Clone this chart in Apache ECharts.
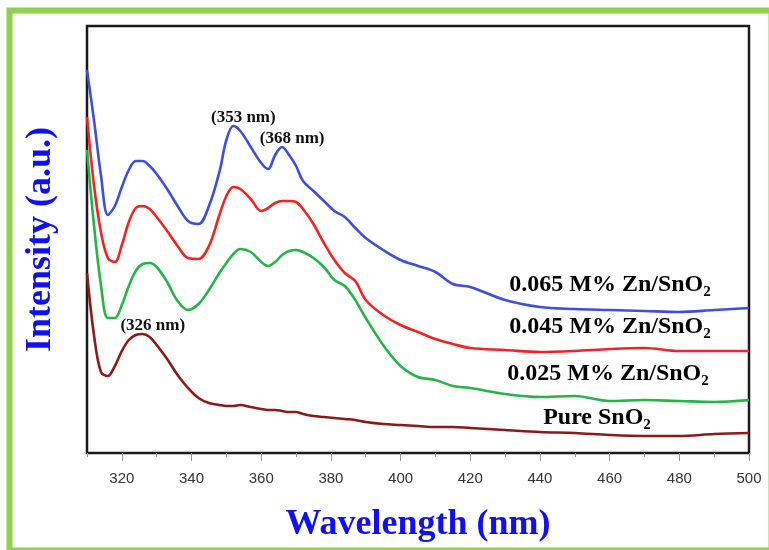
<!DOCTYPE html>
<html>
<head>
<meta charset="utf-8">
<script src="https://cdn.jsdelivr.net/npm/echarts@6/dist/echarts.min.js"></script>
<style>
  html, body { margin: 0; padding: 0; background: #ffffff; }
  #chart { width: 769px; height: 550px; }
</style>
</head>
<body>
<div id="chart"></div>
<script>
// Photoluminescence spectra of pure and Zn-doped SnO2 (intensity in a.u.)
const wavelength = [310,312,314,316,318,320,322,324,326,328,330,333,336,339,342,345,348,350,352,354,357,360,362,364,366,368,370,372,375,378,381,384,387,390,395,400,405,410,415,420,430,440,450,460,470,480,490,500];

const zn065 = [383,333,278,238,247,266,283,292,292,287,279,264,247,232,229,247,281,313,327,322,306,290,284,298,306,298,287,272,262,252,242,236,225,215,203,193,187,181,169,166,153,146,144,143,142,141,143,145];
const zn045 = [336,268,221,195,191,208,231,245,247,244,236,222,207,195,194,207,238,257,266,264,254,242,245,250,252,252,251,244,229,210,193,180,172,153,138,128,121,114,109,105,103,101,102,104,105,102,102,102];
const zn025 = [303,228,168,135,135,148,167,182,189,190,186,171,152,143,149,163,180,190,199,204,201,191,187,191,198,202,203,201,195,186,173,167,153,135,108,87,76,73,67,65,59,56,57,52,53,52,51,53];
const pureSnO2 = [180,118,81,77,87,102,113,118,119,116,108,94,78,65,55,50,48,47,47,48,46,44,43,43,42,41,41,39,37,36,35,34,33,31,29,28,27,26,26,25,23,21,20,18,17,17,19,20];

const seriesNames = ['0.065 M% Zn/SnO', '0.045 M% Zn/SnO', '0.025 M% Zn/SnO', 'Pure SnO'];
const seriesColors = ['#3d4fdc', '#f02424', '#25b34a', '#8b1a1a'];
const seriesValues = [zn065, zn045, zn025, pureSnO2];

const majorTicks = [320,340,360,380,400,420,440,460,480,500];
const minorTicks = [310,330,350,370,390,410,430,450,470,490];

// peak annotations: [text, wavelength, series index]
const peakNotes = [['(353 nm)', 352, 0], ['(368 nm)', 366, 0], ['(326 nm)', 326, 3]];

const serif = '"Liberation Serif", "Times New Roman", serif';
const labelColor = '#8b1a1a';

const chart = echarts.init(document.getElementById('chart'), null, { renderer: 'canvas' });

function pairs(vals) {
  return wavelength.map((w, i) => [w, vals[i]]);
}

const series = seriesValues.map((vals, k) => ({
  name: seriesNames[k],
  type: 'line',
  xAxisIndex: 0,
  data: pairs(vals),
  smooth: 0.35,
  showSymbol: false,
  lineStyle: { color: seriesColors[k], width: 2.6 },
  z: 3,
  markPoint: {
    symbol: 'circle',
    symbolSize: 1,
    itemStyle: { color: 'rgba(0,0,0,0)' },
    silent: true,
    data: peakNotes.filter(p => p[2] === k).map(p => ({
      coord: [p[1], vals[wavelength.indexOf(p[1])]],
      label: {
        show: true,
        formatter: p[0],
        position: 'top',
        distance: 5,
        offset: [10, 6],
        fontFamily: serif,
        fontWeight: 'bold',
        fontSize: 17,
        color: '#111'
      }
    }))
  }
}));

// sample labels beside the flat tails
const sampleLabelPos = [[610, 285], [610, 327], [608, 374], [597, 418]];
const graphics = seriesNames.map((name, k) => ({
  type: 'text',
  x: sampleLabelPos[k][0],
  y: sampleLabelPos[k][1],
  z: 10,
  style: {
    text: '{t|' + name + '}{s|2}',
    align: 'center',
    verticalAlign: 'middle',
    rich: {
      t: { fontFamily: serif, fontWeight: 'bold', fontSize: 24, color: labelColor, lineHeight: 30, verticalAlign: 'middle' },
      s: { fontFamily: serif, fontWeight: 'bold', fontSize: 15, color: labelColor, lineHeight: 30, verticalAlign: 'bottom' }
    }
  }
}));

// green picture frame
graphics.push({
  type: 'rect',
  z: 0,
  shape: { x: 9.5, y: 10.5, width: 762, height: 540 },
  style: { fill: 'none', stroke: '#92d050', lineWidth: 6 }
});

chart.setOption({
  backgroundColor: '#ffffff',
  animation: false,
  grid: {
    left: 87, right: 20, top: 26, bottom: 97,
    outerBoundsMode: 'none',
    containLabel: false,
    show: true,
    borderColor: '#1a1a1a',
    borderWidth: 2.5,
    backgroundColor: '#ffffff'
  },
  xAxis: [
    {
      type: 'value',
      min: 310, max: 500, interval: 10,
      name: 'Wavelength (nm)',
      nameLocation: 'middle',
      nameGap: 54,
      nameTextStyle: { fontFamily: serif, fontWeight: 'bold', fontSize: 36, color: '#1010f0' },
      axisLine: { show: false },
      splitLine: { show: false },
      axisTick: { show: true, customValues: majorTicks, length: 8, lineStyle: { color: '#999', width: 1 } },
      axisLabel: { customValues: majorTicks, margin: 18, fontFamily: '"Liberation Sans", Arial, sans-serif', fontSize: 15, color: '#333' }
    },
    {
      type: 'value',
      min: 310, max: 500, interval: 10,
      position: 'bottom',
      axisLine: { show: false },
      splitLine: { show: false },
      axisTick: { show: true, customValues: minorTicks, length: 4, lineStyle: { color: '#999', width: 1 } },
      axisLabel: { show: false }
    }
  ],
  yAxis: {
    type: 'value',
    min: 0, max: 427,
    name: 'Intensity (a.u.)',
    nameLocation: 'middle',
    nameGap: 28,
    nameTextStyle: { fontFamily: serif, fontWeight: 'bold', fontSize: 36, color: '#1010f0' },
    axisLine: { show: false },
    axisTick: { show: false },
    axisLabel: { show: false },
    splitLine: { show: false }
  },
  series: series,
  graphic: graphics
});
</script>
</body>
</html>
